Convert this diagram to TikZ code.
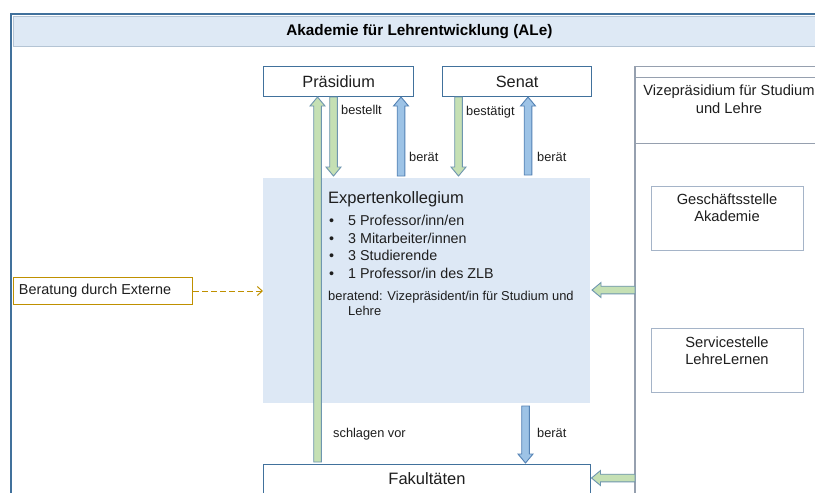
\documentclass[tikz,border=0pt]{standalone}
\usepackage{fontspec}
\setmainfont{Liberation Sans}
\usetikzlibrary{calc,arrows.meta}
\definecolor{frameblue}{RGB}{65,113,156}
\definecolor{titlefill}{RGB}{222,233,245}
\definecolor{titleedge}{RGB}{180,196,212}
\definecolor{expfill}{RGB}{221,232,245}
\definecolor{grayedge}{RGB}{150,160,175}
\definecolor{lightedge}{RGB}{165,180,200}
\definecolor{greenfill}{RGB}{197,224,180}
\definecolor{greenedge}{RGB}{110,150,175}
\definecolor{bluefill}{RGB}{157,195,230}
\definecolor{blueedge}{RGB}{84,130,180}
\definecolor{goldline}{RGB}{191,144,0}
\definecolor{txt}{RGB}{30,30,30}
\newcommand{\blockarrow}[3]{%
  \coordinate (ba-h) at ($(#3)!9pt!(#2)$);
  \draw[#1] ($(#2)!3.8pt!90:(#3)$) -- ($(ba-h)!3.8pt!90:(#3)$) -- ($(ba-h)!7.5pt!90:(#3)$) -- (#3)
    -- ($(ba-h)!7.5pt!-90:(#3)$) -- ($(ba-h)!3.8pt!-90:(#3)$) -- ($(#2)!3.8pt!-90:(#3)$) -- cycle;
}
\tikzset{
  orgbox/.style={draw=frameblue, line width=1.3pt, fill=white, anchor=north west, inner sep=0pt, text=txt,
    font=\fontsize{16.3}{19}\selectfont},
  graybox/.style={draw=lightedge, line width=0.8pt, fill=white, anchor=north west, inner sep=0pt},
  greenarrow/.style={fill=greenfill, draw=greenedge, line width=0.9pt, line join=miter},
  bluearrow/.style={fill=bluefill, draw=blueedge, line width=0.9pt, line join=miter},
  lbl/.style={anchor=base west, inner sep=0pt, text=txt, font=\fontsize{12.8}{15}\selectfont},
  bul/.style={anchor=base west, inner sep=0pt, text=txt, font=\fontsize{14.3}{17}\selectfont},
  sidetext/.style={align=center, inner sep=0pt, text=txt, font=\fontsize{14.7}{17.5}\selectfont},
}
\begin{document}
\begin{tikzpicture}[x=1pt,y=-1pt]
\useasboundingbox (0,0) rectangle (815,493);
\fill[white] (0,0) rectangle (815,493);
% outer frame
\draw[frameblue, line width=2pt] (10.5,14) rectangle (828,520);
\node[draw=titleedge, line width=0.8pt, fill=titlefill, anchor=north west, minimum width=812pt,
  minimum height=30pt, inner sep=0pt, font=\bfseries\fontsize{15.3}{18}\selectfont, text=black] (title) at (13,16)
  {Akademie für Lehrentwicklung (ALe)};
% Vizepraesidium column
\draw[grayedge, line width=0.7pt] (635,66) rectangle (823,520);
\draw[grayedge, line width=0.7pt] (635,77) -- (823,77);
\draw[grayedge, line width=0.7pt] (635,143) -- (823,143);
\draw[grayedge, line width=1.8pt] (635,66) -- (635,520);
\node[sidetext] (vize) at (729,99) {Vizepräsidium für Studium\\und Lehre};
\node[graybox, minimum width=152pt, minimum height=64pt] (gs) at (651,186) {};
\node[sidetext] (gstext) at (727,207.5) {Geschäftsstelle\\Akademie};
\node[graybox, minimum width=152pt, minimum height=64pt] (sl) at (651,328) {};
\node[sidetext] (sltext) at (727,350.5) {Servicestelle\\LehreLernen};
% top boxes
\node[orgbox, minimum width=150pt, minimum height=30pt] (praes) at (263,66) {Präsidium};
\node[orgbox, minimum width=149pt, minimum height=30pt] (senat) at (442,66) {Senat};
% Expertenkollegium
\node[fill=expfill, anchor=north west, minimum width=327pt, minimum height=225pt, inner sep=0pt] (expk) at (263,178) {};
\node[orgbox, minimum width=327pt, minimum height=56pt] (fak) at (263,464) {};
\node[anchor=base, inner sep=0pt, text=txt, font=\fontsize{16.5}{19}\selectfont] (faktext) at (427,484) {Fakultäten};
% external advice
\node[draw=goldline, line width=1pt, fill=white, anchor=north west, minimum width=179pt, minimum height=27pt,
  inner sep=0pt, text=txt, font=\fontsize{14.4}{17}\selectfont] (ext) at (13,277) {\hspace*{-16pt}Beratung durch Externe};
\draw[goldline, line width=1pt, dash pattern=on 6pt off 3pt, -{Straight Barb[length=5pt,width=9pt]}]
  (ext.east) -- (ext.east -| expk.west);
% arrow coordinates
\coordinate (sv-a) at (317.5,462);
\coordinate (sv-b) at (317.5,97);
\coordinate (be-a) at (333.5,97);
\coordinate (be-b) at (333.5,176);
\coordinate (pb-a) at (401,176);
\coordinate (pb-b) at (401,97);
\coordinate (bt-a) at (458.5,97);
\coordinate (bt-b) at (458.5,176);
\coordinate (sb-a) at (528,175);
\coordinate (sb-b) at (528,97);
\coordinate (fb-a) at (525.5,406);
\coordinate (fb-b) at (525.5,463);
\coordinate (ve-a) at (635,290);
\coordinate (ve-b) at (592,290);
\coordinate (vf-a) at (635,478);
\coordinate (vf-b) at (591.5,478);
\blockarrow{greenarrow}{sv-a}{sv-b}
\blockarrow{greenarrow}{be-a}{be-b}
\blockarrow{bluearrow}{pb-a}{pb-b}
\blockarrow{greenarrow}{bt-a}{bt-b}
\blockarrow{bluearrow}{sb-a}{sb-b}
\blockarrow{bluearrow}{fb-a}{fb-b}
\blockarrow{greenarrow}{ve-a}{ve-b}
\blockarrow{greenarrow}{vf-a}{vf-b}
% labels
\node[lbl] (l1) at (341,114) {bestellt};
\node[lbl] (l2) at (409,161) {berät};
\node[lbl] (l3) at (466,115) {bestätigt};
\node[lbl] (l4) at (537,161.5) {berät};
\node[lbl] (l5) at (333,437) {schlagen vor};
\node[lbl] (l6) at (537,437) {berät};
% Expertenkollegium text
\node[anchor=base west, inner sep=0pt, text=txt, font=\fontsize{16.5}{19}\selectfont] (ektitle) at (328,203) {Expertenkollegium};
\node[bul] (b1) at (329,225) {•};
\node[bul] (t1) at (348,225) {5 Professor/inn/en};
\node[bul] (b2) at (329,243) {•};
\node[bul] (t2) at (348,243) {3 Mitarbeiter/innen};
\node[bul] (b3) at (329,260.5) {•};
\node[bul] (t3) at (348,260.5) {3 Studierende};
\node[bul] (b4) at (329,278) {•};
\node[bul] (t4) at (348,278) {1 Professor/in des ZLB};
\node[lbl, font=\fontsize{12.9}{15}\selectfont] (ber1) at (328,300) {beratend: Vizepräsident/in für Studium und};
\node[lbl, font=\fontsize{12.9}{15}\selectfont] (ber2) at (348,315.5) {Lehre};
\end{tikzpicture}
\end{document}
